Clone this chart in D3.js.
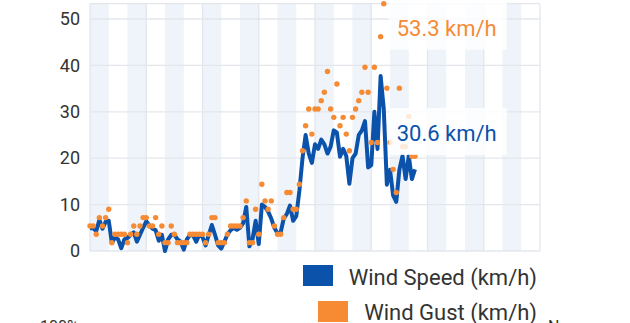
<!DOCTYPE html>
<html>
<head>
<meta charset="utf-8">
<script src="https://cdn.jsdelivr.net/npm/d3@7"></script>
<style>
  html, body { margin: 0; padding: 0; background: #fff; overflow: hidden; }
  svg { display: block; font-family: Roboto, "Noto Sans", sans-serif; }
</style>
</head>
<body>
<svg id="chart" width="630" height="323"></svg>
<script>
// Readings every 2 hours
const readingStepHours = 2;

const windSpeed = [
  4.9, 4.9, 4.3, 6.7, 4.8, 6.3, 6.5, 1.7, 3.0, 2.5,
  0.6, 2.5, 2.8, 3.5, 4.0, 2.0, 3.5, 5.0, 6.4, 5.5,
  4.8, 4.5, 2.2, 3.5, 0.0, 2.5, 3.5, 3.5, 2.5, 2.0,
  0.3, 2.5, 3.5, 3.3, 2.0, 3.5, 3.0, 1.2, 3.5, 5.6,
  3.5, 1.2, 0.5, 2.0, 3.6, 4.5, 5.0, 4.6, 5.0, 6.0,
  9.5, 1.0, 2.5, 6.5, 1.5, 10.0, 9.5, 8.5, 7.0, 5.0,
  3.8, 4.0, 7.0, 8.0, 9.8, 6.5, 7.5, 13.0, 20.0, 25.0,
  21.0, 19.0, 23.0, 22.0, 24.0, 23.0, 21.0, 22.5, 26.0, 25.5,
  20.3, 22.0, 20.5, 14.5, 20.0, 21.0, 25.0, 26.0, 28.0, 18.0,
  18.5, 30.0, 22.0, 37.7, 30.6, 14.3, 17.5, 12.0, 10.6, 17.5,
  20.5, 15.5, 20.5, 15.5, 17.6
];

const windGust = [
  5.4, 5.4, 3.6, 7.2, 5.4, 7.2, 9.0, 1.8, 3.6, 3.6,
  3.6, 3.6, 1.8, 3.6, 5.4, 3.6, 5.4, 7.2, 7.2, 5.4,
  5.4, 7.2, 3.6, 5.4, 1.8, 1.8, 5.4, 3.6, 1.8, 1.8,
  1.8, 1.8, 3.6, 3.6, 3.6, 3.6, 3.6, 1.8, 3.6, 7.2,
  7.2, 1.8, 1.8, 1.8, 3.6, 5.4, 5.4, 5.4, 5.4, 7.2,
  10.8, 1.8, 1.8, 9.0, 3.6, 14.4, 10.8, 9.0, 10.8, 5.4,
  3.6, 3.6, 7.2, 12.6, 12.6, 9.0, 9.0, 14.4, 21.6, 27.0,
  30.6, 25.2, 30.6, 30.6, 32.4, 34.2, 38.7, 30.6, 28.8, 36.0,
  27.0, 28.8, 25.2, 21.6, 28.8, 30.6, 32.4, 34.2, 39.6, 34.2,
  23.4, 39.6, 23.4, 46.2, 53.3, 35.1, 23.4, 17.6, 12.6, 35.1,
  22.5, 22.5, 29.0, 20.4, 20.4
];

// Night periods (start hour, 12 h each)
const nightStarts = [0, 24, 48, 72, 96, 120, 144, 168, 192, 216, 240, 264];
const nightLength = 12;

const xGridHours = [0, 36, 72, 108, 144, 180, 216, 252, 288];
const yTicks = [0, 10, 20, 30, 40, 50];
const seriesNames = ["Wind Speed (km/h)", "Wind Gust (km/h)"];
const unit = "km/h";
const footerLabels = ["100%", "N"];

const colors = {
  speed: "#0b52ab",
  gust: "#f68b34",
  band: "#eef4fa",
  grid: "#e3e7ec",
  text: "#333333"
};

const svg = d3.select("#chart");
const plot = { left: 90, right: 540, top: 3.7, bottom: 251 };

const x = d3.scaleLinear().domain([0, 288]).range([plot.left, plot.right]);
const y = d3.scaleLinear().domain([0, d3.max(windGust)]).range([plot.bottom, plot.top]);

const hourOf = i => i * readingStepHours;

// night bands
svg.append("g").selectAll("rect").data(nightStarts).join("rect")
  .attr("x", d => x(d))
  .attr("y", plot.top)
  .attr("width", d => x(d + nightLength) - x(d))
  .attr("height", plot.bottom - plot.top)
  .attr("fill", colors.band);

// grid
const grid = svg.append("g").attr("stroke", colors.grid).attr("stroke-width", 1.3);
grid.selectAll("line.h").data(yTicks).join("line")
  .attr("x1", plot.left).attr("x2", plot.right)
  .attr("y1", d => y(d)).attr("y2", d => y(d));
grid.selectAll("line.v").data(xGridHours).join("line")
  .attr("y1", plot.top).attr("y2", plot.bottom)
  .attr("x1", d => x(d)).attr("x2", d => x(d));
grid.append("line")
  .attr("x1", plot.left).attr("x2", plot.right)
  .attr("y1", plot.top).attr("y2", plot.top);

// y axis labels
const yAxis = d3.axisLeft(y).tickValues(yTicks).tickSize(0).tickPadding(10);
const yg = svg.append("g").attr("transform", `translate(${plot.left},0)`).call(yAxis);
yg.select(".domain").remove();
yg.selectAll("text")
  .attr("font-family", "Roboto, sans-serif")
  .attr("font-size", 18)
  .attr("fill", colors.text);

// wind speed line
const line = d3.line()
  .x((d, i) => x(hourOf(i)))
  .y(d => y(d));
svg.append("path")
  .datum(windSpeed)
  .attr("d", line)
  .attr("fill", "none")
  .attr("stroke", colors.speed)
  .attr("stroke-width", 4)
  .attr("stroke-linejoin", "round");

// gust dots
svg.append("g").selectAll("circle").data(windGust).join("circle")
  .attr("cx", (d, i) => x(hourOf(i)))
  .attr("cy", d => y(d))
  .attr("r", 2.7)
  .attr("fill", colors.gust);

// value labels at the peak gust
const peak = d3.maxIndex(windGust);
const px = x(hourOf(peak));
const callouts = [
  { value: windGust[peak], color: colors.gust },
  { value: windSpeed[peak], color: colors.speed }
];
const cg = svg.append("g");
callouts.forEach(c => {
  const base = y(c.value) + 32;
  cg.append("rect")
    .attr("x", px + 5).attr("y", base - 33)
    .attr("width", 118).attr("height", 47)
    .attr("fill", "#fff").attr("fill-opacity", 0.82);
  cg.append("text")
    .attr("x", px + 13).attr("y", base)
    .attr("font-size", 22)
    .attr("fill", c.color)
    .text(`${c.value} ${unit}`);
});

// legend
const legend = [
  { name: seriesNames[0], color: colors.speed, rx: 303, ry: 265, ty: 285 },
  { name: seriesNames[1], color: colors.gust, rx: 318, ry: 301, ty: 320 }
];
const lg = svg.append("g");
legend.forEach(l => {
  lg.append("rect").attr("x", l.rx).attr("y", l.ry).attr("width", 30).attr("height", 21).attr("fill", l.color);
  lg.append("text").attr("x", 537).attr("y", l.ty).attr("text-anchor", "end")
    .attr("font-size", 22).attr("fill", colors.text).text(l.name);
});

// partly visible labels at the bottom edge
svg.append("text").attr("x", 40).attr("y", 332).attr("font-size", 16).attr("fill", colors.text).text(footerLabels[0]);
svg.append("text").attr("x", 548).attr("y", 332).attr("font-size", 16).attr("fill", colors.text).text(footerLabels[1]);
</script>
</body>
</html>
